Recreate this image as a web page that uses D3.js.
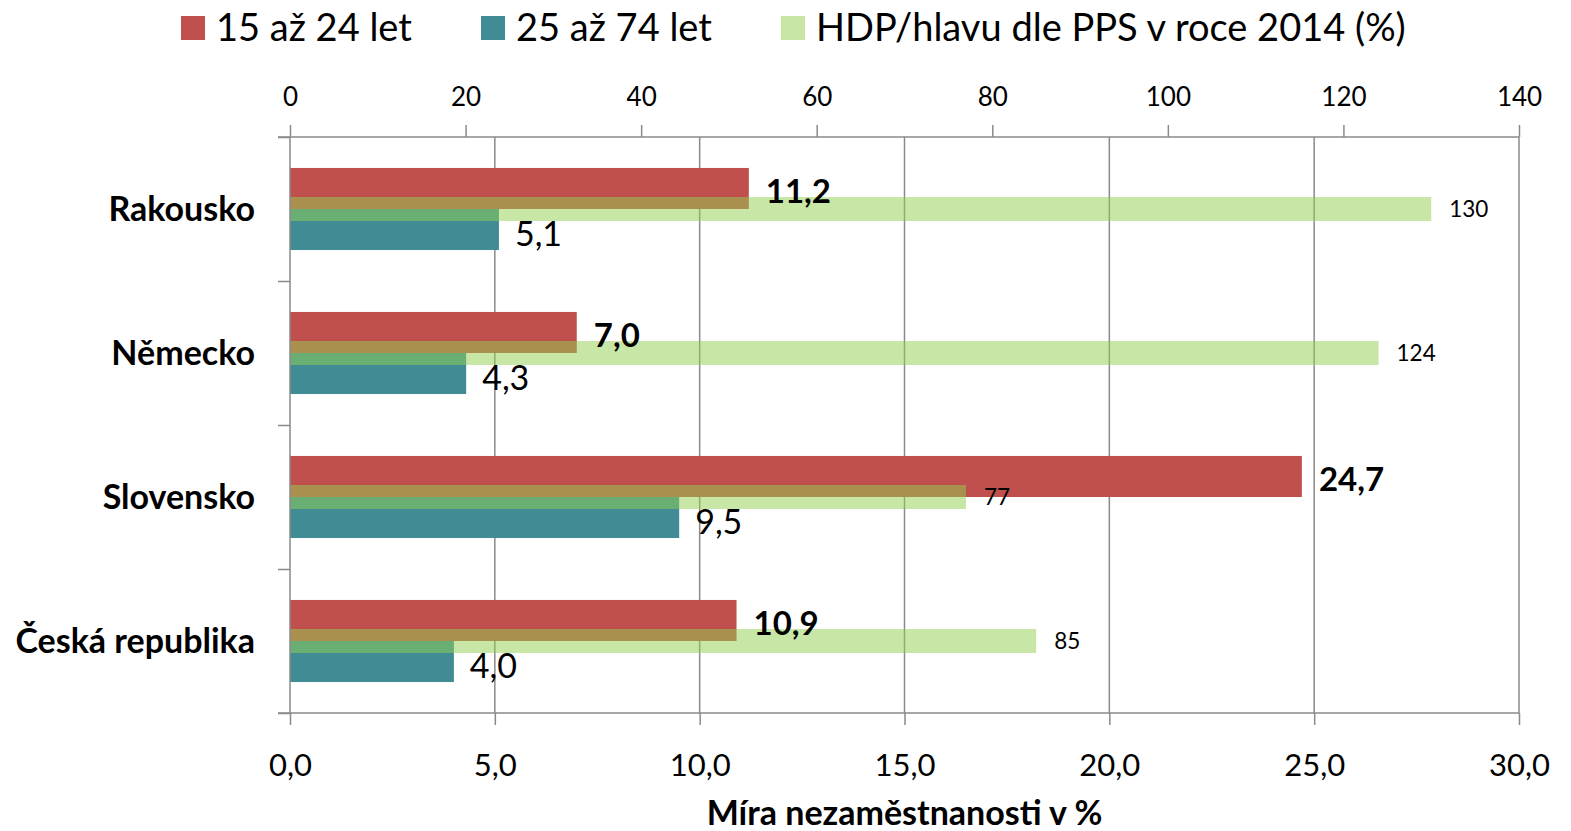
<!DOCTYPE html>
<html><head><meta charset="utf-8">
<script src="https://cdn.jsdelivr.net/npm/d3@7"></script>
<style>
body{margin:0;background:#fff;}
svg{display:block;font-family:Lato,"Open Sans",sans-serif;}
</style></head>
<body><svg id="c" width="1571" height="831"></svg>
<script>
const categories = ["Rakousko","Německo","Slovensko","Česká republika"];
const young = [11.2, 7.0, 24.7, 10.9];
const adult = [5.1, 4.3, 9.5, 4.0];
const hdp = [130, 124, 77, 85];
const seriesNames = ["15 až 24 let","25 až 74 let","HDP/hlavu dle PPS v roce 2014 (%)"];
const bottomTicks = [0,5,10,15,20,25,30];
const topTicks = [0,20,40,60,80,100,120,140];

const colors = {red:"#C0504D", teal:"#418C94", green:"#92D050"};
const grid = "#8a8a8a";
const svg = d3.select("#c");
const L=290, R=1519, T=137, B=713;

const x = d3.scaleLinear().domain([0,30]).range([L,R]);
const x2 = d3.scaleLinear().domain([0,140]).range([L,R]);
const y = d3.scaleBand().domain(categories).range([T,B]).paddingInner(0.43).paddingOuter(0.215);
const ySub = d3.scaleBand().domain(["young","adult"]).range([0,y.bandwidth()]);
const yB = d3.scaleLinear().domain([0,categories.length]).range([T,B]);
const fmt = v => v.toFixed(1).replace(".",",");

// gridlines
svg.append("g").selectAll("line").data(bottomTicks.slice(1)).join("line")
  .attr("x1",d=>x(d)).attr("x2",d=>x(d)).attr("y1",T).attr("y2",B)
  .attr("stroke",grid).attr("stroke-width",1.5);

// bars
const rows = categories.map((c,i)=>({c, young:young[i], adult:adult[i], hdp:hdp[i]}));
svg.append("g").selectAll("rect").data(rows).join("rect")
  .attr("x",x(0)).attr("y",d=>y(d.c)+ySub("young")).attr("width",d=>x(d.young)-x(0))
  .attr("height",ySub.bandwidth()).attr("fill",colors.red);
svg.append("g").selectAll("rect").data(rows).join("rect")
  .attr("x",x(0)).attr("y",d=>y(d.c)+ySub("adult")).attr("width",d=>x(d.adult)-x(0))
  .attr("height",ySub.bandwidth()).attr("fill",colors.teal);
const gh = 24;
svg.append("g").selectAll("rect").data(rows).join("rect")
  .attr("x",x2(0)).attr("y",d=>y(d.c)+y.bandwidth()/2-gh/2).attr("width",d=>x2(d.hdp)-x2(0))
  .attr("height",gh).attr("fill",colors.green).attr("fill-opacity",0.5);

// axes
function styleAxis(g){
  g.select(".domain").remove();
  g.selectAll(".tick line").attr("stroke",grid).attr("stroke-width",1.5);
  g.selectAll("text").attr("fill","#000").attr("font-family","Lato");
}
const gBottom = svg.append("g").attr("transform",`translate(0,${B})`)
  .call(d3.axisBottom(x).tickValues(bottomTicks).tickSize(12).tickPadding(29).tickFormat(fmt));
styleAxis(gBottom);
gBottom.selectAll("text").attr("font-size",31);
const gTop = svg.append("g").attr("transform",`translate(0,${T})`)
  .call(d3.axisTop(x2).tickValues(topTicks).tickSize(12).tickPadding(19).tickFormat(d3.format("d")));
styleAxis(gTop);
gTop.selectAll("text").attr("font-size",26);
const gLeft = svg.append("g").attr("transform",`translate(${L},0)`)
  .call(d3.axisLeft(yB).tickValues(d3.range(categories.length+1)).tickSize(12).tickFormat(""));
styleAxis(gLeft);
// axis lines
svg.append("line").attr("x1",L-12).attr("x2",R).attr("y1",T).attr("y2",T).attr("stroke",grid).attr("stroke-width",1.5);
svg.append("line").attr("x1",L-12).attr("x2",R).attr("y1",B).attr("y2",B).attr("stroke",grid).attr("stroke-width",1.5);
svg.append("line").attr("x1",L).attr("x2",L).attr("y1",T).attr("y2",B).attr("stroke",grid).attr("stroke-width",1.5);

// category labels
svg.append("g").selectAll("text").data(categories).join("text")
  .attr("x",255).attr("y",d=>y(d)+y.bandwidth()/2).attr("dy","0.36em")
  .attr("text-anchor","end").attr("font-weight","bold").attr("font-size",34).text(d=>d);

// value labels
svg.append("g").selectAll("text").data(rows).join("text")
  .attr("x",d=>x(d.young)+17).attr("y",d=>y(d.c)+ySub("young")+ySub.bandwidth()/2+3).attr("dy","0.36em")
  .attr("font-weight","bold").attr("font-size",33).text(d=>fmt(d.young));
svg.append("g").selectAll("text").data(rows).join("text")
  .attr("x",d=>x(d.adult)+16).attr("y",d=>y(d.c)+ySub("adult")+ySub.bandwidth()/2+4).attr("dy","0.36em")
  .attr("font-size",34).text(d=>fmt(d.adult));
svg.append("g").selectAll("text").data(rows).join("text")
  .attr("x",d=>x2(d.hdp)+18).attr("y",d=>y(d.c)+y.bandwidth()/2).attr("dy","0.36em")
  .attr("font-size",22.5).text(d=>d.hdp);

// axis title
svg.append("text").attr("x",(L+R)/2).attr("y",813).attr("dy","0.36em").attr("text-anchor","middle")
  .attr("font-weight","bold").attr("font-size",34).text("Míra nezaměstnanosti v %");

// legend
const legendX = [181,481,781];
const legendCols = [colors.red, colors.teal, colors.green];
const legendOp = [1,1,0.5];
const lg = svg.append("g");
seriesNames.forEach((s,i)=>{
  lg.append("rect").attr("x",legendX[i]).attr("y",16).attr("width",24).attr("height",24)
    .attr("fill",legendCols[i]).attr("fill-opacity",legendOp[i]);
  lg.append("text").attr("x",legendX[i]+35).attr("y",27).attr("dy","0.36em")
    .attr("font-size",38).text(s);
});
</script></body></html>
